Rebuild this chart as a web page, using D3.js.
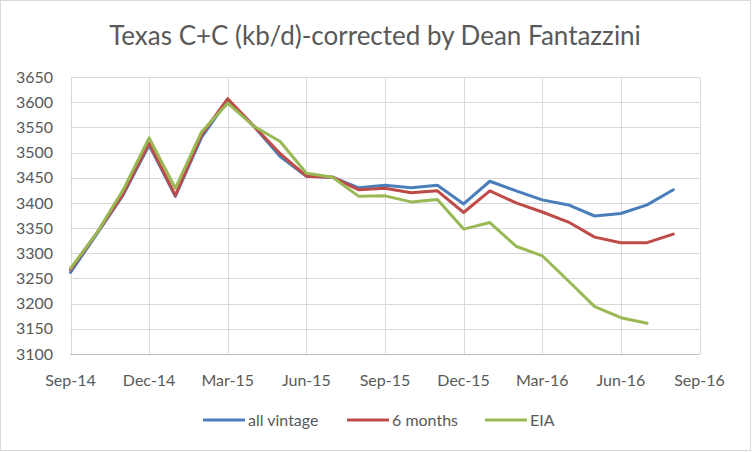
<!DOCTYPE html>
<html>
<head>
<meta charset="utf-8">
<script src="https://cdn.jsdelivr.net/npm/d3@7"></script>
<style>
  html, body { margin: 0; padding: 0; background: #fff; }
  svg { display: block; font-family: Lato, "Open Sans", sans-serif; }
</style>
</head>
<body>
<svg id="chart" width="752" height="452"></svg>
<script>
const title = "Texas C+C (kb/d)-corrected by Dean Fantazzini";
const months = ["Sep-14","Oct-14","Nov-14","Dec-14","Jan-15","Feb-15","Mar-15","Apr-15","May-15",
  "Jun-15","Jul-15","Aug-15","Sep-15","Oct-15","Nov-15","Dec-15","Jan-16","Feb-16","Mar-16",
  "Apr-16","May-16","Jun-16","Jul-16","Aug-16","Sep-16"];
const tickLabels = ["Sep-14","Dec-14","Mar-15","Jun-15","Sep-15","Dec-15","Mar-16","Jun-16","Sep-16"];
const yTicks = [3100,3150,3200,3250,3300,3350,3400,3450,3500,3550,3600,3650];
const allVintage = [3262,3338,3415,3515,3413,3530,3604,3552,3492,3453,3451,3430,3435,3430,3435,3398,3443,3424,3406,3396,3374,3379,3396,3426];
const sixMonths  = [3267,3340,3417,3519,3415,3535,3607,3552,3498,3453,3451,3426,3429,3420,3424,3381,3424,3400,3382,3362,3332,3321,3321,3338];
const eia        = [3270,3340,3425,3529,3429,3541,3598,3552,3522,3459,3451,3413,3414,3402,3407,3348,3361,3314,3295,3245,3194,3172,3161];
const seriesNames = ["all vintage","6 months","EIA"];
const seriesColors = ["#4A7EBB","#BE4B48","#98B954"];

const svg = d3.select("#chart");
svg.append("rect").attr("x",0.5).attr("y",0.5).attr("width",750).attr("height",450)
  .attr("fill","#fff").attr("stroke","#d9d9d9");

const x = d3.scaleLinear().domain([0, months.length - 1]).range([70.5, 699.5]);
const y = d3.scaleLinear().domain([3100, 3650]).range([354, 77]);

// horizontal gridlines
svg.append("g").selectAll("line").data(yTicks).join("line")
  .attr("x1", x(0)).attr("x2", x(24))
  .attr("y1", d => Math.round(y(d)) + 0.5).attr("y2", d => Math.round(y(d)) + 0.5)
  .attr("stroke", "#d9d9d9").attr("stroke-width", 1);
// vertical gridlines
const tickIdx = tickLabels.map(t => months.indexOf(t));
svg.append("g").selectAll("line").data(tickIdx).join("line")
  .attr("x1", d => Math.round(x(d)) + 0.5).attr("x2", d => Math.round(x(d)) + 0.5)
  .attr("y1", y(3650)).attr("y2", y(3100))
  .attr("stroke", "#d9d9d9").attr("stroke-width", 1);
// x axis line
svg.append("line").attr("x1", x(0)).attr("x2", x(24))
  .attr("y1", Math.round(y(3100)) + 0.5).attr("y2", Math.round(y(3100)) + 0.5)
  .attr("stroke", "#bfbfbf");

// y labels
svg.append("g").selectAll("text").data(yTicks).join("text")
  .attr("x", 53).attr("y", d => y(d)).attr("dy", "0.35em")
  .attr("text-anchor", "end").attr("font-size", 16).attr("fill", "#595959")
  .text(d => d);
// x labels
svg.append("g").selectAll("text").data(tickLabels).join("text")
  .attr("x", d => x(months.indexOf(d))).attr("y", 386)
  .attr("text-anchor", "middle").attr("font-size", 16).attr("fill", "#595959")
  .text(d => d);

// title
svg.append("text").attr("x", 375).attr("y", 45).attr("text-anchor", "middle")
  .attr("font-size", 26).attr("fill", "#595959").text(title);

// lines
const line = d3.line().x((d, i) => x(i)).y(d => y(d)).curve(d3.curveLinear);
[allVintage, sixMonths, eia].forEach((s, k) => {
  svg.append("path").datum(s).attr("d", line)
    .attr("fill", "none").attr("stroke", seriesColors[k]).attr("stroke-width", 3)
    .attr("stroke-linejoin", "round").attr("stroke-linecap", "round");
});

// legend
const legendX = [203, 347, 485];
const lg = svg.append("g");
seriesNames.forEach((n, k) => {
  lg.append("line").attr("x1", legendX[k]).attr("x2", legendX[k] + 42)
    .attr("y1", 420).attr("y2", 420).attr("stroke", seriesColors[k]).attr("stroke-width", 3);
  lg.append("text").attr("x", legendX[k] + 45).attr("y", 420).attr("dy", "0.35em")
    .attr("font-size", 16).attr("fill", "#595959").text(n);
});
</script>
</body>
</html>
